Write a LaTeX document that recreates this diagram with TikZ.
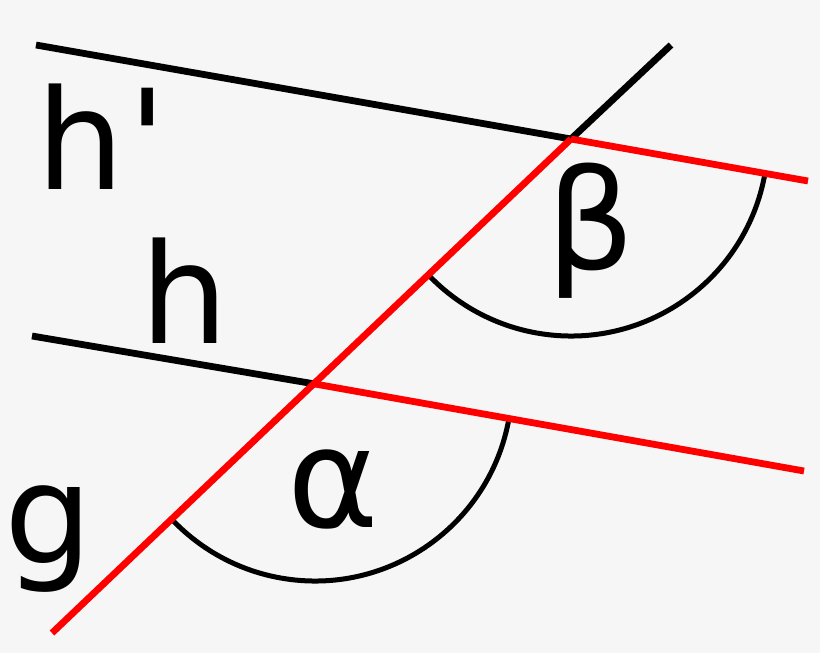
\documentclass[tikz,border=0pt]{standalone}
\usepackage{fontspec}
\newfontfamily\lblfont{DejaVu Sans}
\definecolor{bg}{HTML}{F6F6F6}
\definecolor{myred}{HTML}{FF0000}
\begin{document}
\begin{tikzpicture}[x=1pt,y=-1pt,
  ln/.style={line width=6.8pt},
  redln/.style={line width=6.8pt,myred},
  arcln/.style={line width=5pt},
  lbl/.style={anchor=base west,inner sep=0pt,font=\lblfont\fontsize{139}{139}\selectfont}]
\fill[bg] (0,0) rectangle (820,653);
\useasboundingbox (0,0) rectangle (820,653);
\coordinate (hpA) at (36,45);
\coordinate (B) at (571,139);
\coordinate (hpE) at (808,181);
\coordinate (hA) at (32,336);
\coordinate (A) at (315,384);
\coordinate (hE) at (804,471);
\coordinate (gA) at (52,633);
\coordinate (gE) at (671,45);
% arcs
\draw[arcln] (A) ++(10:197) arc[start angle=10,end angle=136.5,radius=197];
\draw[arcln] (B) ++(10:197) arc[start angle=10,end angle=136.5,radius=197];
% lines
\draw[ln] (hpA) -- (B);
\draw[ln] (hA) -- (A);
\draw[ln] (B) -- (gE);
\draw[redln] (B) -- (hpE);
\draw[redln] (A) -- (hE);
\draw[redln] (gA) -- (B);
% labels
\node[lbl] (lhp) at (36,189) {h\kern4pt'};
\node[lbl] (lh) at (140,343) {h};
\node[lbl] (lg) at (4,563) {g};
\node[lbl] (la) at (287,527) {α};
\node[lbl] (lb) at (546,269) {β};
\end{tikzpicture}
\end{document}
